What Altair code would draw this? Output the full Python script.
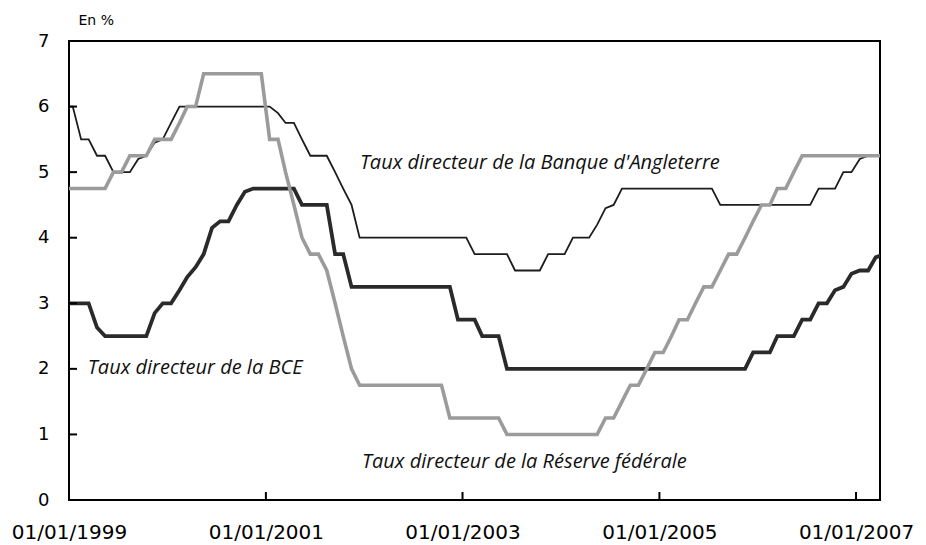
import altair as alt
import pandas as pd

# Monthly points (mid-month), Dec 1998 .. Apr 2007
all_months = [f"{y}-{m:02d}-15" for y in range(1998, 2008) for m in range(1, 13)]
months = all_months[11:11 + 101]

# Taux directeur de la Banque d'Angleterre (%)
boe = [6.0,
       6.0, 5.5, 5.5, 5.25, 5.25, 5.0, 5.0, 5.0, 5.2, 5.25, 5.45, 5.5,
       5.75, 6.0, 6.0, 6.0, 6.0, 6.0, 6.0, 6.0, 6.0, 6.0, 6.0, 6.0,
       6.0, 5.9, 5.75, 5.75, 5.5, 5.25, 5.25, 5.25, 5.0, 4.75, 4.5, 4.0,
       4.0, 4.0, 4.0, 4.0, 4.0, 4.0, 4.0, 4.0, 4.0, 4.0, 4.0, 4.0,
       4.0, 3.75, 3.75, 3.75, 3.75, 3.75, 3.5, 3.5, 3.5, 3.5, 3.75, 3.75,
       3.75, 4.0, 4.0, 4.0, 4.2, 4.45, 4.5, 4.75, 4.75, 4.75, 4.75, 4.75,
       4.75, 4.75, 4.75, 4.75, 4.75, 4.75, 4.75, 4.5, 4.5, 4.5, 4.5, 4.5,
       4.5, 4.5, 4.5, 4.5, 4.5, 4.5, 4.5, 4.75, 4.75, 4.75, 5.0, 5.0,
       5.2, 5.25, 5.25, 5.25]

# Taux directeur de la BCE (%)
ecb = [3.0,
       3.0, 3.0, 3.0, 2.63, 2.5, 2.5, 2.5, 2.5, 2.5, 2.5, 2.85, 3.0,
       3.0, 3.2, 3.4, 3.55, 3.75, 4.15, 4.25, 4.25, 4.5, 4.7, 4.75, 4.75,
       4.75, 4.75, 4.75, 4.75, 4.5, 4.5, 4.5, 4.5, 3.75, 3.75, 3.25, 3.25,
       3.25, 3.25, 3.25, 3.25, 3.25, 3.25, 3.25, 3.25, 3.25, 3.25, 3.25, 2.75,
       2.75, 2.75, 2.5, 2.5, 2.5, 2.0, 2.0, 2.0, 2.0, 2.0, 2.0, 2.0,
       2.0, 2.0, 2.0, 2.0, 2.0, 2.0, 2.0, 2.0, 2.0, 2.0, 2.0, 2.0,
       2.0, 2.0, 2.0, 2.0, 2.0, 2.0, 2.0, 2.0, 2.0, 2.0, 2.0, 2.25,
       2.25, 2.25, 2.5, 2.5, 2.5, 2.75, 2.75, 3.0, 3.0, 3.2, 3.25, 3.45,
       3.5, 3.5, 3.7, 3.75]

# Taux directeur de la Réserve fédérale (%)
fed = [4.75,
       4.75, 4.75, 4.75, 4.75, 4.75, 5.0, 5.0, 5.25, 5.25, 5.25, 5.5, 5.5,
       5.5, 5.75, 6.0, 6.0, 6.5, 6.5, 6.5, 6.5, 6.5, 6.5, 6.5, 6.5,
       5.5, 5.5, 5.0, 4.5, 4.0, 3.75, 3.75, 3.5, 3.0, 2.5, 2.0, 1.75,
       1.75, 1.75, 1.75, 1.75, 1.75, 1.75, 1.75, 1.75, 1.75, 1.75, 1.25, 1.25,
       1.25, 1.25, 1.25, 1.25, 1.25, 1.0, 1.0, 1.0, 1.0, 1.0, 1.0, 1.0,
       1.0, 1.0, 1.0, 1.0, 1.0, 1.25, 1.25, 1.5, 1.75, 1.75, 2.0, 2.25,
       2.25, 2.5, 2.75, 2.75, 3.0, 3.25, 3.25, 3.5, 3.75, 3.75, 4.0, 4.25,
       4.5, 4.5, 4.75, 4.75, 5.0, 5.25, 5.25, 5.25, 5.25, 5.25, 5.25, 5.25,
       5.25, 5.25, 5.25, 5.25]

label_texts = ["Taux directeur de la Banque d'Angleterre",
               "Taux directeur de la BCE",
               "Taux directeur de la Réserve fédérale"]
label_dates = ["2001-12-16", "1999-03-12", "2001-12-24"]
label_values = [5.145, 2.01, 0.58]

tick_years = [1999, 2001, 2003, 2005, 2007]
x_tick_dates = ["2001-01-01", "2003-01-01", "2005-01-01", "2007-01-01"]
y_ticks = [1, 2, 3, 4, 5, 6]

W, H = 811, 459

x_scale = alt.Scale(type="utc", domain=[alt.DateTime(year=1999, month=1, date=1, utc=True),
                                         alt.DateTime(year=2007, month=3, date=31, utc=True)])
y_scale = alt.Scale(domain=[0, 7], nice=False, zero=False)

x_axis = alt.Axis(values=[alt.DateTime(year=y, month=1, date=1, utc=True) for y in tick_years],
                  format="%d/%m/%Y", title=None, grid=False, ticks=False, domain=False,
                  labelFont="DejaVu Sans", labelFontSize=20, labelColor="black",
                  labelPadding=22, labelFlush=False, labelOverlap=False, labelBound=False)
y_axis = alt.Axis(values=[0, 1, 2, 3, 4, 5, 6, 7], title="En %", grid=False, ticks=False,
                  domain=False, labelFont="DejaVu Sans", labelFontSize=18, labelColor="black",
                  labelPadding=20, titleAngle=0, titleAlign="left", titleBaseline="alphabetic",
                  titleX=9, titleY=-17, titleFont="DejaVu Sans", titleFontSize=14,
                  titleFontWeight="normal", titleColor="black")


def series_df(vals):
    return pd.DataFrame({"date": months, "rate": vals})


def X(field):
    return alt.X(field, scale=x_scale, axis=x_axis)


def Y(field):
    return alt.Y(field, scale=y_scale, axis=y_axis)


boe_line = alt.Chart(series_df(boe)).mark_line(color="#1c1c1c", strokeWidth=1.8, clip=True).encode(
    x=X("date:T"), y=Y("rate:Q"))
ecb_line = alt.Chart(series_df(ecb)).mark_line(color="#2a2a2a", strokeWidth=3.8, clip=True).encode(
    x=X("date:T"), y=Y("rate:Q"))
fed_line = alt.Chart(series_df(fed)).mark_line(color="#9b9b9b", strokeWidth=3.6, clip=True).encode(
    x=X("date:T"), y=Y("rate:Q"))

xt = alt.Chart(pd.DataFrame({"date": x_tick_dates})).mark_rule(color="black", strokeWidth=2).encode(
    x=X("date:T"), y=alt.value(H), y2=alt.value(H - 8))
yt = alt.Chart(pd.DataFrame({"rate": y_ticks})).mark_rule(color="black", strokeWidth=2).encode(
    y=Y("rate:Q"), x=alt.value(0), x2=alt.value(8))

labels = alt.Chart(pd.DataFrame({"t": label_texts, "date": label_dates, "rate": label_values})).mark_text(
    font="Open Sans", fontStyle="italic", fontSize=20, align="left", baseline="middle", color="#111111"
).encode(x=X("date:T"), y=Y("rate:Q"), text="t:N")

chart = alt.layer(boe_line, ecb_line, fed_line, xt, yt, labels).properties(
    width=W, height=H,
    autosize=alt.AutoSizeParams(type="none"),
    padding={"left": 61, "top": 33, "right": 38, "bottom": 46},
    background="white",
).configure_view(stroke="black", strokeWidth=2)

chart.save("out.html", embed_options={"renderer": "svg", "actions": False})
